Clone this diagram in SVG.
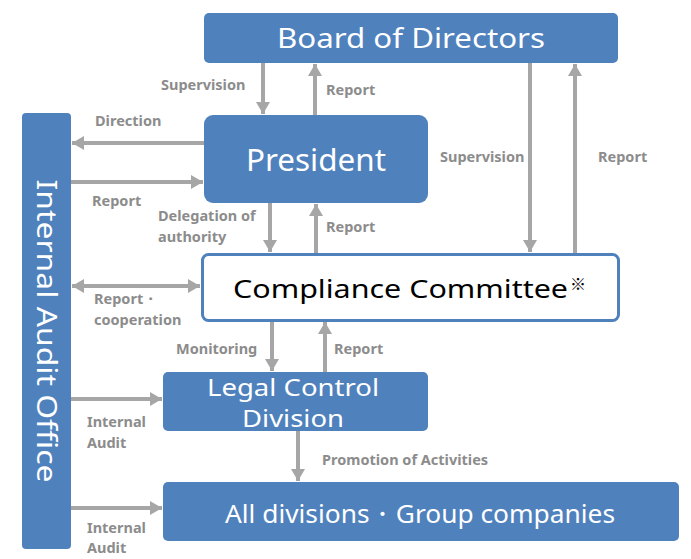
<svg xmlns="http://www.w3.org/2000/svg" width="691" height="559" viewBox="0 0 691 559">
<style>
.box{fill:#4F81BD}
.nt{fill:#fff;font-family:"Noto Sans","Open Sans",sans-serif;text-anchor:middle}
.lb{fill:#8C8C8C;font-family:"Noto Sans","Open Sans",sans-serif;font-weight:bold;font-size:14.5px}
.ar{stroke:#A6A6A6;stroke-width:4;fill:none}
</style>
<defs>
<marker id="ah" markerUnits="userSpaceOnUse" markerWidth="14" markerHeight="14" refX="12" refY="7" orient="auto-start-reverse" viewBox="0 0 14 14">
<path d="M0,0 L12,7 L0,14 Z" fill="#A6A6A6"/>
</marker>
</defs>
<rect width="691" height="559" fill="#fff"/>
<g id="connectors">
<line class="ar" x1="263" y1="63" x2="263" y2="114" marker-end="url(#ah)"/>
<line class="ar" x1="315" y1="115" x2="315" y2="64" marker-end="url(#ah)"/>
<line class="ar" x1="204" y1="143" x2="72" y2="143" marker-end="url(#ah)"/>
<line class="ar" x1="71" y1="182" x2="203" y2="182" marker-end="url(#ah)"/>
<line class="ar" x1="270" y1="203" x2="270" y2="252" marker-end="url(#ah)"/>
<line class="ar" x1="316" y1="253" x2="316" y2="204" marker-end="url(#ah)"/>
<line class="ar" x1="530" y1="63" x2="530" y2="252" marker-end="url(#ah)"/>
<line class="ar" x1="575" y1="253" x2="575" y2="64" marker-end="url(#ah)"/>
<line class="ar" x1="72" y1="286" x2="200" y2="286" marker-start="url(#ah)" marker-end="url(#ah)"/>
<line class="ar" x1="272" y1="321" x2="272" y2="371" marker-end="url(#ah)"/>
<line class="ar" x1="325" y1="372" x2="325" y2="322" marker-end="url(#ah)"/>
<line class="ar" x1="71" y1="399" x2="162" y2="399" marker-end="url(#ah)"/>
<line class="ar" x1="298" y1="431" x2="298" y2="481" marker-end="url(#ah)"/>
<line class="ar" x1="71" y1="508" x2="162" y2="508" marker-end="url(#ah)"/>
</g>
<g id="labels">
<text class="lb" x="161" y="90">Supervision</text>
<text class="lb" x="326" y="95">Report</text>
<text class="lb" x="95" y="126">Direction</text>
<text class="lb" x="92" y="206">Report</text>
<text class="lb" x="158" y="221">Delegation of</text>
<text class="lb" x="158" y="242">authority</text>
<text class="lb" x="326" y="232">Report</text>
<text class="lb" x="440" y="162">Supervision</text>
<text class="lb" x="598" y="162">Report</text>
<text class="lb" x="94" y="304">Report・</text>
<text class="lb" x="94" y="325">cooperation</text>
<text class="lb" x="176" y="354">Monitoring</text>
<text class="lb" x="334" y="354">Report</text>
<text class="lb" x="87" y="427">Internal</text>
<text class="lb" x="87" y="448">Audit</text>
<text class="lb" x="322" y="465">Promotion of Activities</text>
<text class="lb" x="87" y="533">Internal</text>
<text class="lb" x="87" y="553">Audit</text>
</g>
<g id="board">
<rect class="box" x="204" y="13" width="414" height="50" rx="5"/>
<text class="nt" x="411" y="48" font-size="28" textLength="268" lengthAdjust="spacingAndGlyphs">Board of Directors</text>
</g>
<g id="president">
<rect class="box" x="204" y="115" width="224" height="88" rx="9"/>
<text class="nt" x="316" y="171" font-size="30" textLength="140" lengthAdjust="spacingAndGlyphs">President</text>
</g>
<g id="audit">
<rect class="box" x="22" y="113" width="49" height="436" rx="4"/>
<text class="nt" transform="translate(37,331) rotate(90)" x="0" y="0" font-size="28" textLength="303" lengthAdjust="spacingAndGlyphs">Internal Audit Office</text>
</g>
<g id="compliance">
<rect x="202.5" y="254.5" width="416" height="66" rx="6" fill="#fff" stroke="#4F81BD" stroke-width="3"/>
<text x="233" y="298" font-family="'Noto Sans','Open Sans',sans-serif" font-size="26" fill="#000" textLength="335" lengthAdjust="spacingAndGlyphs">Compliance Committee</text>
<text x="570" y="290" font-family="'Noto Sans CJK JP',sans-serif" font-size="16" fill="#000">※</text>
</g>
<g id="legal">
<rect class="box" x="163" y="372" width="265" height="59" rx="5"/>
<text class="nt" x="293" y="396" font-size="23" textLength="172" lengthAdjust="spacingAndGlyphs">Legal Control</text>
<text class="nt" x="293" y="427" font-size="23" textLength="102" lengthAdjust="spacingAndGlyphs">Division</text>
</g>
<g id="all">
<rect class="box" x="163" y="482" width="516" height="59" rx="5"/>
<text class="nt" x="420" y="523" font-size="26" textLength="390" lengthAdjust="spacingAndGlyphs">All divisions・Group companies</text>
</g>
</svg>
